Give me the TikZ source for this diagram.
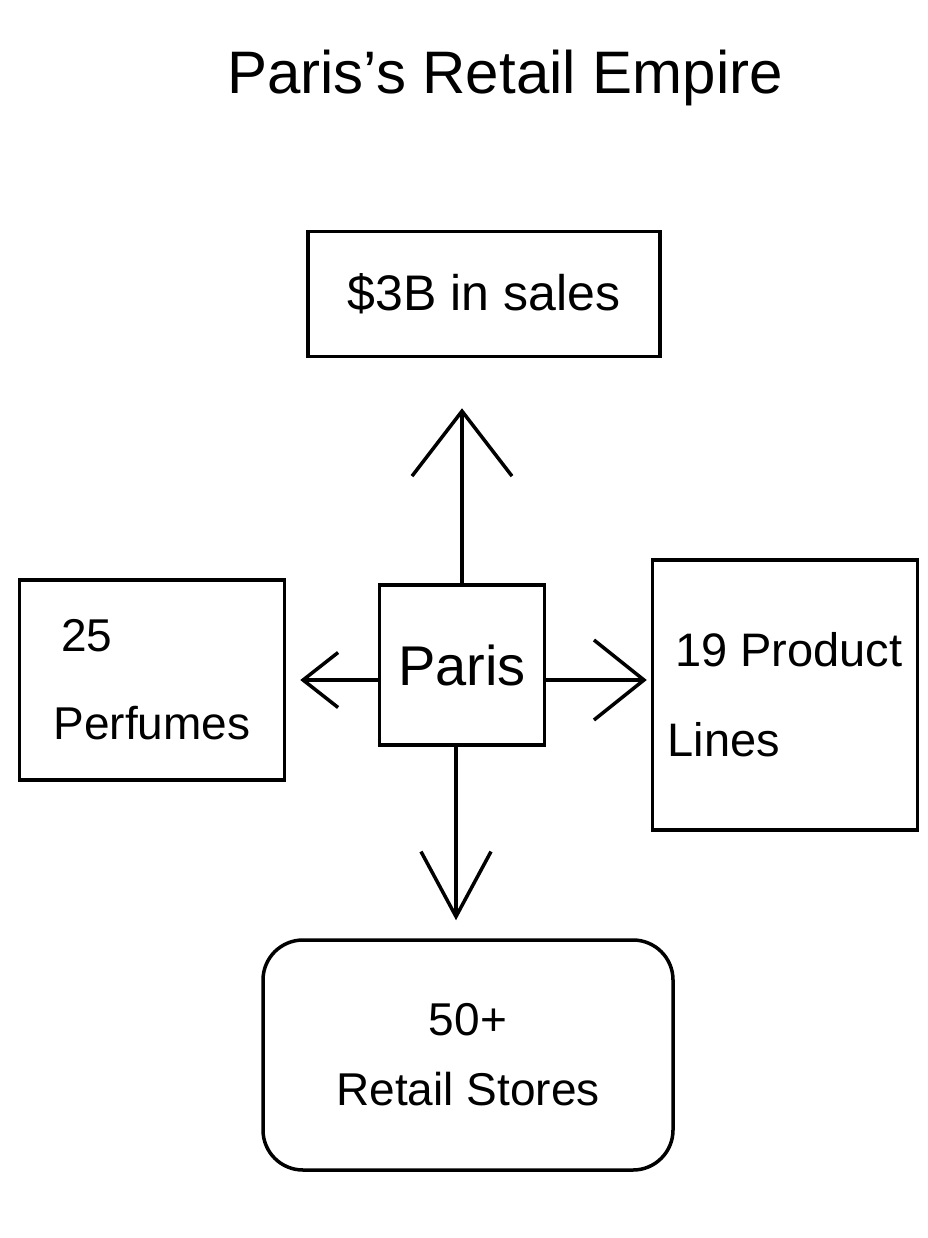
\documentclass[tikz,border=0pt]{standalone}
\usepackage{fontspec}
\setmainfont{Liberation Sans}
\usetikzlibrary{arrows.meta}
\begin{document}
\begin{tikzpicture}[x=1pt,y=-1pt,
  box/.style={draw,line width=3.5pt,inner sep=0pt},
  conn/.style={line width=3.5pt,line cap=round,line join=round}]
\useasboundingbox (0,0) rectangle (927,1238);
\node[font=\fontsize{60}{70}\selectfont] (title) at (505,78) {Paris's Retail Empire};
\node[box,minimum width=352pt,minimum height=125pt,font=\fontsize{50}{60}\selectfont] (sales) at (484,294) {\$3B in sales};
\node[box,minimum width=165pt,minimum height=160pt,font=\fontsize{56}{66}\selectfont] (paris) at (462,665) {Paris};
\node[box,minimum width=265pt,minimum height=200pt,align=left,font=\fontsize{46}{88}\selectfont] (perf) at (152,680) {\,25\\Perfumes};
\node[box,minimum width=265pt,minimum height=270pt,align=left,font=\fontsize{47}{90}\selectfont] (prod) at (785,695) {\,19 Product\\Lines};
\node[box,rounded corners=40pt,minimum width=410pt,minimum height=230pt,align=center,font=\fontsize{46}{70}\selectfont] (stores) at (468,1055) {50+\\Retail Stores};
\draw[conn,-{Straight Barb[length=65pt,width=100pt,line width=3.5pt]},shorten >=50pt] (paris.north) -- (paris.north |- sales.south);
\draw[conn,-{Straight Barb[length=35pt,width=55pt,line width=3.5pt]},shorten >=14pt] ([yshift=-15pt]paris.west) -- ([yshift=-15pt]paris.west -| perf.east);
\draw[conn,-{Straight Barb[length=50pt,width=80pt,line width=3.5pt]},shorten >=4pt] ([yshift=-15pt]paris.east) -- ([yshift=-15pt]paris.east -| prod.west);
\draw[conn,-{Straight Barb[length=65pt,width=70pt,line width=3.5pt]},shorten >=18pt] ([xshift=-6pt]paris.south) -- ([xshift=-6pt]paris.south |- stores.north);
\end{tikzpicture}
\end{document}
